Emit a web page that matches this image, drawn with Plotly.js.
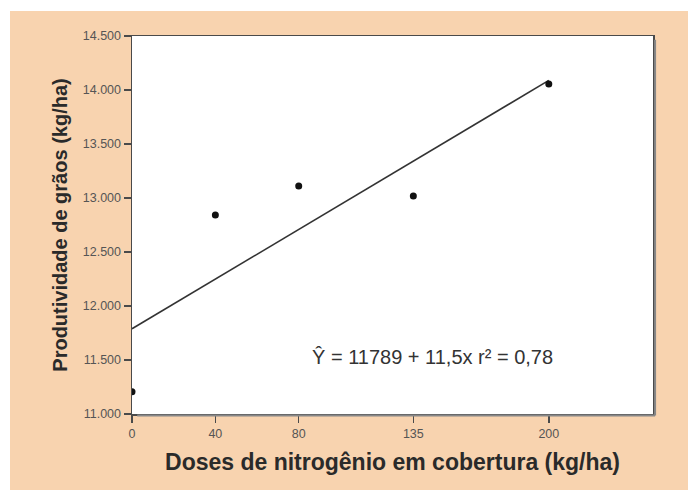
<!DOCTYPE html>
<html>
<head>
<meta charset="utf-8">
<script src="https://cdn.plot.ly/plotly-3.0.1.min.js"></script>
<style>
html,body{margin:0;padding:0;background:#ffffff;width:688px;height:490px;overflow:hidden;}
#chart{position:absolute;left:10px;top:11px;width:678px;height:479px;}
</style>
</head>
<body>
<div id="chart"></div>
<script>
const doses = [0, 40, 80, 135, 200];
const produtividade = [11205, 12842, 13110, 13018, 14055];
const fitX = [0, 200];
const fitY = [11789, 14089];
const xTicks = [0, 40, 80, 135, 200];
const yTicks = [11000, 11500, 12000, 12500, 13000, 13500, 14000, 14500];
const equation = "Ŷ = 11789 + 11,5x r² = 0,78";

const traces = [
  {x: fitX, y: fitY, mode: 'lines', line: {color: '#333333', width: 1.6}, hoverinfo: 'skip'},
  {x: doses, y: produtividade, mode: 'markers', marker: {color: '#111111', size: 7}}
];

const fontFam = '"Liberation Sans", Arial, sans-serif';
const layout = {
  width: 678, height: 479,
  paper_bgcolor: '#F8D3AF',
  plot_bgcolor: '#ffffff',
  showlegend: false,
  separators: ',.',
  margin: {l: 122, t: 25, r: 35, b: 76},
  font: {family: fontFam},
  xaxis: {
    range: [0, 250], tickvals: xTicks, ticktext: xTicks.map(String),
    showgrid: false, zeroline: false,
    showline: true, mirror: true, linecolor: '#4a4a4a', linewidth: 1.5,
    ticks: 'outside', ticklen: 7, tickwidth: 1.5, tickcolor: '#4a4a4a',
    tickfont: {size: 12.5, color: '#555555', family: fontFam},
    title: {text: 'Doses de nitrogênio em cobertura (kg/ha)', font: {size: 23, color: '#2a2a2a', family: fontFam, weight: 'bold'}, standoff: 14}
  },
  yaxis: {
    range: [11000, 14500], tickvals: yTicks, tickformat: ',d',
    showgrid: false, zeroline: false,
    showline: true, mirror: true, linecolor: '#4a4a4a', linewidth: 1.5,
    ticks: 'outside', ticklen: 7, tickwidth: 1.5, tickcolor: '#4a4a4a',
    tickfont: {size: 12.5, color: '#555555', family: fontFam},
    title: {text: 'Produtividade de grãos (kg/ha)', font: {size: 20, color: '#2a2a2a', family: fontFam, weight: 'bold'}, standoff: 10}
  },
  shapes: [
    {type: 'line', xref: 'paper', yref: 'paper', x0: 1.004, x1: 1.004, y0: -0.004, y1: 0.99, line: {color: '#888888', width: 2}},
    {type: 'line', xref: 'paper', yref: 'paper', x0: 0.01, x1: 1.004, y0: -0.004, y1: -0.004, line: {color: '#888888', width: 2}}
  ],
  annotations: [{
    x: 144, y: 11530, xref: 'x', yref: 'y', text: equation, showarrow: false,
    font: {size: 20, color: '#333333', family: fontFam}
  }]
};
Plotly.newPlot('chart', traces, layout, {displayModeBar: false, staticPlot: true});
</script>
</body>
</html>
